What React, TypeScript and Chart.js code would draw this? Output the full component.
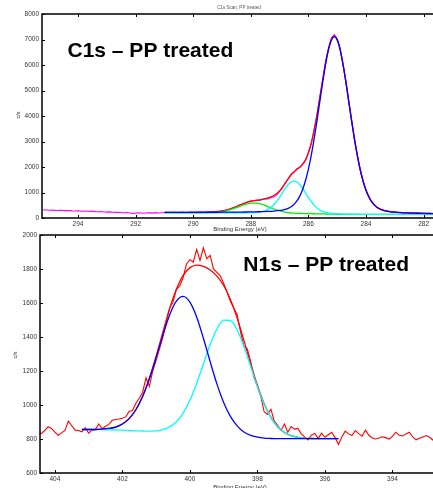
import { useEffect, useRef } from "react";
import { Chart, registerables } from "chart.js";

Chart.register(...registerables);

const FONT = "'Liberation Sans', Arial, Helvetica, sans-serif";

// ---------------- C1s panel ----------------
const c1sXTicks = [294, 292, 290, 288, 286, 284, 282];
const c1sYTicks = [0, 1000, 2000, 3000, 4000, 5000, 6000, 7000, 8000];

const c1sRawBE = [
  295.2, 295.1, 295.0, 294.9, 294.8, 294.7, 294.6, 294.5, 294.4, 294.3,
  294.2, 294.1, 294.0, 293.9, 293.8, 293.7, 293.6, 293.5, 293.4, 293.3,
  293.2, 293.1, 293.0, 292.9, 292.8, 292.7, 292.6, 292.5, 292.4, 292.3,
  292.2, 292.1, 292.0, 291.9, 291.8, 291.7, 291.6, 291.5, 291.4, 291.3,
  291.2, 291.1, 291.0, 290.9, 290.8, 290.7, 290.6, 290.5, 290.4, 290.3,
  290.2, 290.1, 290.0, 289.9, 289.8, 289.7, 289.6, 289.5, 289.4, 289.3,
  289.2, 289.1, 289.0, 288.9, 288.8, 288.7, 288.6, 288.5, 288.4, 288.3,
  288.2, 288.1, 288.0, 287.9, 287.8, 287.7, 287.6, 287.5, 287.4, 287.3,
  287.2, 287.1, 287.0, 286.9, 286.8, 286.7, 286.6, 286.5, 286.4, 286.3,
  286.2, 286.1, 286.0, 285.9, 285.8, 285.7, 285.6, 285.5, 285.4, 285.3,
  285.2, 285.1, 285.0, 284.9, 284.8, 284.7, 284.6, 284.5, 284.4, 284.3,
  284.2, 284.1, 284.0, 283.9, 283.8, 283.7, 283.6, 283.5, 283.4, 283.3,
  283.2, 283.1, 283.0, 282.9, 282.8, 282.7, 282.6, 282.5, 282.4, 282.3,
  282.2, 282.1, 282.0, 281.9, 281.8, 281.7, 281.6,
];
const c1sRawCounts = [
  318, 312, 305, 310, 300, 296, 302, 290, 288, 294,
  280, 276, 284, 270, 265, 272, 258, 262, 250, 246,
  252, 238, 232, 240, 226, 220, 228, 212, 205, 214,
  196, 178, 190, 205, 198, 186, 208, 200, 192, 212,
  198, 204, 210, 222, 214, 226, 218, 212, 228, 220,
  216, 232, 222, 230, 221, 235, 226, 240, 234, 248,
  262, 258, 290, 300, 336, 352, 402, 440, 512, 548,
  600, 628, 662, 676, 702, 690, 728, 760, 748, 800,
  830, 905, 1040, 1180, 1390, 1530, 1720, 1790, 1930, 1980,
  2120, 2270, 2580, 2920, 3480, 4040, 4780, 5430, 6150, 6640,
  7060, 7190, 7020, 6660, 6010, 5380, 4560, 3850, 3070, 2470,
  1870, 1460, 1080, 840, 620, 515, 400, 350, 310, 270,
  262, 238, 236, 214, 220, 205, 210, 196, 200, 186,
  192, 178, 184, 172, 178, 175, 170,
];

const c1sFitBE = [
  291.0, 290.8, 290.6, 290.4, 290.2, 290.0, 289.8, 289.6, 289.4, 289.2,
  289.0, 288.8, 288.6, 288.4, 288.2, 288.0, 287.8, 287.6, 287.4, 287.2,
  287.0, 286.9, 286.8, 286.7, 286.6, 286.5, 286.4, 286.3, 286.2, 286.1,
  286.0, 285.9, 285.8, 285.7, 285.6, 285.5, 285.4, 285.3, 285.2, 285.1,
  285.0, 284.9, 284.8, 284.7, 284.6, 284.5, 284.4, 284.3, 284.2, 284.1,
  284.0, 283.9, 283.8, 283.7, 283.6, 283.4, 283.2, 283.0, 282.8, 282.6,
  282.4, 282.2, 282.0, 281.8, 281.6,
];
const c1sEnvelope = [
  219, 220, 221, 221, 222, 224, 225, 228, 236, 250,
  279, 329, 406, 498, 586, 660, 690, 730, 790, 880,
  1060, 1210, 1371, 1544, 1697, 1815, 1908, 1993, 2105, 2281,
  2551, 2937, 3446, 4061, 4746, 5452, 6110, 6653, 7009, 7129,
  6993, 6616, 6046, 5348, 4584, 3817, 3091, 2443, 1892, 1442,
  1091, 827, 635, 500, 408, 302, 255, 231, 214, 203,
  195, 188, 181, 177, 173,
];
const c1sPeakBlue = [
  217, 218, 219, 219, 220, 221, 221, 223, 225, 226,
  227, 228, 231, 233, 235, 239, 244, 250, 259, 273,
  295, 313, 340, 381, 443, 533, 667, 857, 1119, 1469,
  1916, 2464, 3109, 3831, 4595, 5355, 6048, 6613, 6982, 7110,
  6978, 6604, 6036, 5339, 4576, 3809, 3084, 2437, 1886, 1437,
  1086, 822, 631, 496, 404, 299, 252, 228, 212, 201,
  193, 186, 180, 176, 172,
];
const c1sPeakCyan = [
  207, 207, 207, 206, 206, 207, 206, 206, 207, 206,
  206, 206, 206, 205, 205, 208, 218, 251, 338, 522,
  818, 993, 1165, 1312, 1413, 1447, 1410, 1307, 1157, 983,
  805, 641, 503, 394, 313, 257, 219, 195, 179, 169,
  163, 158, 155, 153, 151, 150, 148, 147, 146, 145,
  145, 145, 144, 144, 144, 143, 143, 143, 142, 142,
  142, 142, 141, 141, 141,
];
const c1sPeakGreen = [
  205, 205, 205, 204, 204, 204, 204, 205, 210, 222,
  248, 295, 367, 454, 536, 586, 584, 530, 444, 353,
  278, 250, 228, 211, 199, 189, 183, 179, 175, 173,
  170, 168, 166, 164, 162, 160, 157, 155, 152, 150,
  148, 146, 145, 144, 143, 142, 141, 141, 140, 140,
  140, 140, 140, 140, 140, 140, 140, 140, 140, 140,
  140, 140, 140, 140, 140,
];

// ---------------- N1s panel ----------------
const n1sXTicks = [404, 402, 400, 398, 396, 394];
const n1sYTicks = [600, 800, 1000, 1200, 1400, 1600, 1800, 2000];

const n1sRawBE = [
  404.5, 404.4, 404.3, 404.2, 404.1, 404.0, 403.9, 403.8, 403.7, 403.6,
  403.5, 403.4, 403.3, 403.2, 403.1, 403.0, 402.9, 402.8, 402.7, 402.6,
  402.5, 402.4, 402.3, 402.2, 402.1, 402.0, 401.9, 401.8, 401.7, 401.6,
  401.5, 401.4, 401.3, 401.2, 401.1, 401.0, 400.9, 400.8, 400.7, 400.6,
  400.5, 400.4, 400.3, 400.2, 400.1, 400.0, 399.9, 399.8, 399.7, 399.6,
  399.5, 399.4, 399.3, 399.2, 399.1, 399.0, 398.9, 398.8, 398.7, 398.6,
  398.5, 398.4, 398.3, 398.2, 398.1, 398.0, 397.9, 397.8, 397.7, 397.6,
  397.5, 397.4, 397.3, 397.2, 397.1, 397.0, 396.9, 396.8, 396.7, 396.6,
  396.5, 396.4, 396.3, 396.2, 396.1, 396.0, 395.9, 395.8, 395.7, 395.6,
  395.5, 395.4, 395.3, 395.2, 395.1, 395.0, 394.9, 394.8, 394.7, 394.6,
  394.5, 394.4, 394.3, 394.2, 394.1, 394.0, 393.9, 393.8, 393.7, 393.6,
  393.5, 393.4, 393.3, 393.2, 393.1, 393.0, 392.9, 392.8, 392.7,
];
const n1sRawCounts = [
  848, 832, 850, 872, 862, 840, 822, 836, 850, 905,
  878, 852, 850, 842, 866, 835, 852, 856, 888, 860,
  875, 886, 910, 915, 918, 922, 930, 962, 968, 1010,
  1040, 1075, 1160, 1110, 1200, 1262, 1330, 1400, 1490, 1570,
  1605, 1680, 1700, 1750, 1830, 1855, 1840, 1915, 1850, 1925,
  1860, 1880, 1800, 1780, 1760, 1715, 1665, 1610, 1570, 1530,
  1430, 1345, 1330, 1255, 1160, 1110, 1050, 960, 945, 975,
  905, 880, 850, 888, 840, 873, 858, 862, 830, 812,
  795, 822, 833, 802, 834, 810, 825, 840, 808, 768,
  812, 846, 830, 820, 850, 832, 816, 852, 822, 806,
  800, 806, 813, 808, 800, 815, 840, 822, 818, 830,
  840, 812, 795, 804, 812, 820, 810, 794, 800,
];

const n1sFitBE = [
  403.2, 403.0, 402.8, 402.6, 402.4, 402.2, 402.0, 401.8, 401.6, 401.4,
  401.2, 401.0, 400.8, 400.6, 400.4, 400.2, 400.0, 399.8, 399.6, 399.4,
  399.2, 399.0, 398.8, 398.6, 398.4, 398.2, 398.0, 397.8, 397.6, 397.4,
  397.2, 397.0, 396.8, 396.6, 396.4, 396.2, 396.0, 395.8, 395.6,
];
const n1sEnvelope = [
  856, 856, 856, 858, 862, 870, 888, 920, 972, 1051,
  1157, 1287, 1429, 1567, 1681, 1763, 1808, 1823, 1815, 1794,
  1758, 1703, 1621, 1511, 1380, 1243, 1116, 1008, 927, 872,
  839, 820, 810, 805, 803, 802, 802, 802, 802,
];
const n1sPeakBlue = [
  856, 856, 856, 858, 862, 870, 888, 920, 972, 1050,
  1154, 1279, 1411, 1530, 1611, 1639, 1605, 1518, 1393, 1255,
  1124, 1015, 933, 877, 841, 821, 811, 805, 803, 802,
  802, 802, 802, 802, 802, 802, 802, 802, 802,
];
const n1sPeakCyan = [
  856, 856, 855, 855, 854, 853, 852, 850, 848, 847,
  846, 848, 855, 871, 901, 952, 1028, 1127, 1241, 1355,
  1447, 1499, 1497, 1441, 1344, 1226, 1108, 1005, 926, 872,
  839, 820, 810, 805, 803, 802, 802, 802, 802,
];

const zip = (xs: number[], ys: number[]) => xs.map((x, i) => ({ x, y: ys[i] }));

type PanelText = {
  title: string;
  titleX: number;
  titleY: number;
  yTitleX: number;
  yTitleY: number;
  xTitleX: number;
  xTitleY: number;
  smallTitle?: string;
  smallTitleX?: number;
  smallTitleY?: number;
};

function framePlugin(t: PanelText) {
  return {
    id: "frameAndText",
    afterDraw(chart: any) {
      const { ctx, chartArea: a, scales } = chart;
      const xs = scales.x;
      const ys = scales.y;
      ctx.save();
      // inner ticks
      ctx.strokeStyle = "#000";
      ctx.lineWidth = 1;
      ctx.beginPath();
      xs.ticks.forEach((tk: any) => {
        const px = Math.round(xs.getPixelForValue(tk.value)) + 0.5;
        ctx.moveTo(px, a.bottom);
        ctx.lineTo(px, a.bottom - 3);
        ctx.moveTo(px, a.top);
        ctx.lineTo(px, a.top + 3);
      });
      ys.ticks.forEach((tk: any) => {
        const py = Math.round(ys.getPixelForValue(tk.value)) + 0.5;
        ctx.moveTo(a.left, py);
        ctx.lineTo(a.left + 3, py);
      });
      ctx.stroke();
      // frame
      ctx.lineWidth = 1.5;
      ctx.beginPath();
      ctx.moveTo(a.right + 2, a.top);
      ctx.lineTo(a.left, a.top);
      ctx.lineTo(a.left, a.bottom);
      ctx.lineTo(a.right + 2, a.bottom);
      ctx.stroke();
      // big title
      ctx.fillStyle = "#000";
      ctx.font = `bold 21px ${FONT}`;
      ctx.textAlign = "left";
      ctx.textBaseline = "alphabetic";
      ctx.fillText(t.title, t.titleX, t.titleY);
      // y title
      ctx.fillStyle = "#333";
      ctx.font = `5.5px ${FONT}`;
      ctx.save();
      ctx.translate(t.yTitleX, t.yTitleY);
      ctx.rotate(-Math.PI / 2);
      ctx.textAlign = "center";
      ctx.textBaseline = "middle";
      ctx.fillText("c/s", 0, 0);
      ctx.restore();
      // x title
      ctx.font = `6px ${FONT}`;
      ctx.textAlign = "center";
      ctx.textBaseline = "middle";
      ctx.fillText("Binding Energy (eV)", t.xTitleX, t.xTitleY);
      if (t.smallTitle) {
        ctx.fillStyle = "#555";
        ctx.font = `4.5px ${FONT}`;
        ctx.fillText(t.smallTitle, t.smallTitleX, t.smallTitleY);
      }
      ctx.restore();
    },
  };
}

function axisCfg(
  min: number,
  max: number,
  ticks: number[],
  size: number,
  isX: boolean,
  reverse = false
) {
  return {
    type: "linear" as const,
    min,
    max,
    reverse,
    afterFit: (s: any) => {
      if (isX) s.height = size;
      else s.width = size;
    },
    afterBuildTicks: (s: any) => {
      s.ticks = ticks.map((v) => ({ value: v }));
    },
    ticks: {
      font: { size: 6.5, family: FONT },
      color: "#333",
      padding: isX ? 2 : 3,
      maxRotation: 0,
      autoSkip: false,
      callback: (v: any) => String(v),
    },
    grid: { display: false, drawTicks: false },
    border: { display: false },
  };
}

const lineDs = (data: any[], color: string, width: number, smooth: boolean) => ({
  data,
  borderColor: color,
  backgroundColor: color,
  borderWidth: width,
  pointRadius: 0,
  fill: false,
  tension: 0,
  cubicInterpolationMode: smooth ? ("monotone" as const) : ("default" as const),
});

function baseOptions(padTop: number, scales: any) {
  return {
    responsive: true,
    maintainAspectRatio: false,
    animation: false as const,
    events: [] as any[],
    layout: { padding: { top: padTop, left: 0, right: 0, bottom: 0 } },
    plugins: { legend: { display: false }, tooltip: { enabled: false }, title: { display: false } },
    scales,
  };
}

export default function App() {
  const topRef = useRef<HTMLCanvasElement>(null);
  const botRef = useRef<HTMLCanvasElement>(null);

  useEffect(() => {
    Chart.defaults.font.family = FONT;
    const top = new Chart(topRef.current!, {
      type: "line",
      data: {
        datasets: [
          lineDs(zip(c1sFitBE, c1sPeakBlue), "#0000ff", 1.3, true),
          lineDs(zip(c1sFitBE, c1sPeakCyan), "#00ffff", 1.3, true),
          lineDs(zip(c1sFitBE, c1sPeakGreen), "#00ee00", 1.3, true),
          lineDs(zip(c1sFitBE, c1sEnvelope), "#ff0000", 1.3, true),
          lineDs(zip(c1sRawBE, c1sRawCounts), "#ff00ff", 1.1, false),
        ],
      },
      options: baseOptions(14, {
        x: axisCfg(281.57, 295.25, c1sXTicks, 14, true, true),
        y: axisCfg(0, 8000, c1sYTicks, 42, false),
      }) as any,
      plugins: [
        framePlugin({
          title: "C1s \u2013 PP treated",
          titleX: 67.5,
          titleY: 57.3,
          yTitleX: 18,
          yTitleY: 115,
          xTitleX: 240,
          xTitleY: 229,
          smallTitle: "C1s Scan, PP treated",
          smallTitleX: 239,
          smallTitleY: 7.5,
        }),
      ],
    });
    const bot = new Chart(botRef.current!, {
      type: "line",
      data: {
        datasets: [
          lineDs(zip(n1sFitBE, n1sPeakBlue), "#0000ff", 1.3, true),
          lineDs(zip(n1sFitBE, n1sPeakCyan), "#00ffff", 1.3, true),
          lineDs(zip(n1sFitBE, n1sEnvelope), "#ff0000", 1.3, true),
          lineDs(zip(n1sRawBE, n1sRawCounts), "#ff0000", 1.1, false),
        ],
      },
      options: baseOptions(7, {
        x: axisCfg(392.71, 404.44, n1sXTicks, 15, true, true),
        y: axisCfg(600, 2000, n1sYTicks, 40, false),
      }) as any,
      plugins: [
        framePlugin({
          title: "N1s \u2013 PP treated",
          titleX: 243.3,
          titleY: 43.3,
          yTitleX: 15,
          yTitleY: 127,
          xTitleX: 240,
          xTitleY: 259,
        }),
      ],
    });
    return () => {
      top.destroy();
      bot.destroy();
    };
  }, []);

  return (
    <div
      style={{
        position: "absolute",
        left: 0,
        top: 0,
        width: 433,
        height: 488,
        overflow: "hidden",
        background: "#fff",
      }}
    >
      <div style={{ position: "absolute", left: 0, top: 228, width: 436, height: 260 }}>
        <canvas ref={botRef} />
      </div>
      <div style={{ position: "absolute", left: 0, top: 0, width: 436, height: 232 }}>
        <canvas ref={topRef} />
      </div>
    </div>
  );
}
